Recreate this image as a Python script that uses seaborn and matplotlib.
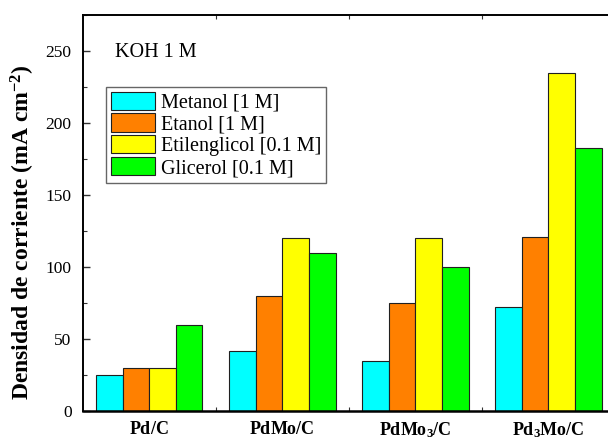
import matplotlib
matplotlib.use("Agg")
import matplotlib.pyplot as plt
import seaborn as sns
import pandas as pd
from matplotlib.ticker import MultipleLocator

catalysts = ["Pd/C", "PdMo/C", "PdMo3/C", "Pd3Mo/C"]
tick_labels = [r"$\mathbf{Pd/C}$", r"$\mathbf{PdMo/C}$", r"$\mathbf{PdMo_3/C}$", r"$\mathbf{Pd_3Mo/C}$"]
series = ["Metanol [1 M]", "Etanol [1 M]", "Etilenglicol [0.1 M]", "Glicerol [0.1 M]"]
metanol = [25, 42, 35, 72]
etanol = [30, 80, 75, 121]
etilenglicol = [30, 120, 120, 235]
glicerol = [60, 110, 100, 183]
colors = ["#00FFFF", "#FF8000", "#FFFF00", "#00FF00"]

rows = []
for s, vals in zip(series, [metanol, etanol, etilenglicol, glicerol]):
    for c, v in zip(catalysts, vals):
        rows.append({"cat": c, "serie": s, "val": v})
df = pd.DataFrame(rows)

sns.set_theme(style="white")
plt.rcParams["font.family"] = ["Liberation Serif", "DejaVu Serif"]
plt.rcParams["mathtext.fontset"] = "custom"
plt.rcParams["mathtext.rm"] = "Liberation Serif"
plt.rcParams["mathtext.bf"] = "Liberation Serif:bold"
plt.rcParams["mathtext.it"] = "Liberation Serif:italic"
for k in ["text.color", "axes.labelcolor", "xtick.color", "ytick.color"]:
    plt.rcParams[k] = "black"

fig = plt.figure(figsize=(6.08, 4.44), dpi=100)
ax = fig.add_axes([0.136, 0.0743, 1.0115 - 0.136, 0.966 - 0.0743])

sns.barplot(data=df, x="cat", y="val", hue="serie", order=catalysts, hue_order=series,
            palette=colors, width=0.8, edgecolor="#202020", linewidth=0.8,
            saturation=1, ax=ax)

ax.set_xlim(-0.5, 3.5)
ax.set_ylim(0, 275)
ax.yaxis.set_major_locator(MultipleLocator(50))
ax.yaxis.set_minor_locator(MultipleLocator(25))
ax.set_xticks(range(4))
ax.set_xticklabels(tick_labels, fontsize=13)
ax.set_xticks([0.5, 1.5, 2.5], minor=True)
ax.tick_params(axis="x", which="major", length=0, pad=7, bottom=True)
ax.tick_params(axis="x", which="minor", length=3, direction="in", bottom=True, top=True,
               width=0.8, color="#333333")
ax.tick_params(axis="y", which="major", length=5, direction="in", left=True, width=1.0,
               labelsize=12.5, pad=8, color="#333333")
ax.tick_params(axis="y", which="minor", length=3, direction="in", left=True, width=0.8, color="#333333")
ax.set_xlabel("")
ax.set_ylabel(r"Densidad de corriente (mA cm$^{\mathbf{-2}}$)", fontsize=17, fontweight="bold")
ax.yaxis.set_label_coords(-0.085, 0.452)

for side in ["left", "bottom", "top", "right"]:
    ax.spines[side].set_color("black")
ax.spines["left"].set_linewidth(1.4)
ax.spines["bottom"].set_linewidth(1.8)
ax.spines["top"].set_linewidth(1.4)

ax.text(0.06, 0.905, "KOH 1 M", transform=ax.transAxes, fontsize=14.5, ha="left", va="center")

handles, labels = ax.get_legend_handles_labels()
leg = ax.legend(handles, labels, loc="upper left", bbox_to_anchor=(0.044, 0.818),
                borderaxespad=0, fontsize=14.5, frameon=True, fancybox=False,
                handlelength=2.2, handleheight=1.0, labelspacing=0.05,
                handletextpad=0.3, borderpad=0.22)
leg.get_frame().set_edgecolor("#404040")
leg.get_frame().set_linewidth(1.0)

fig.savefig("out.png", dpi=100)
